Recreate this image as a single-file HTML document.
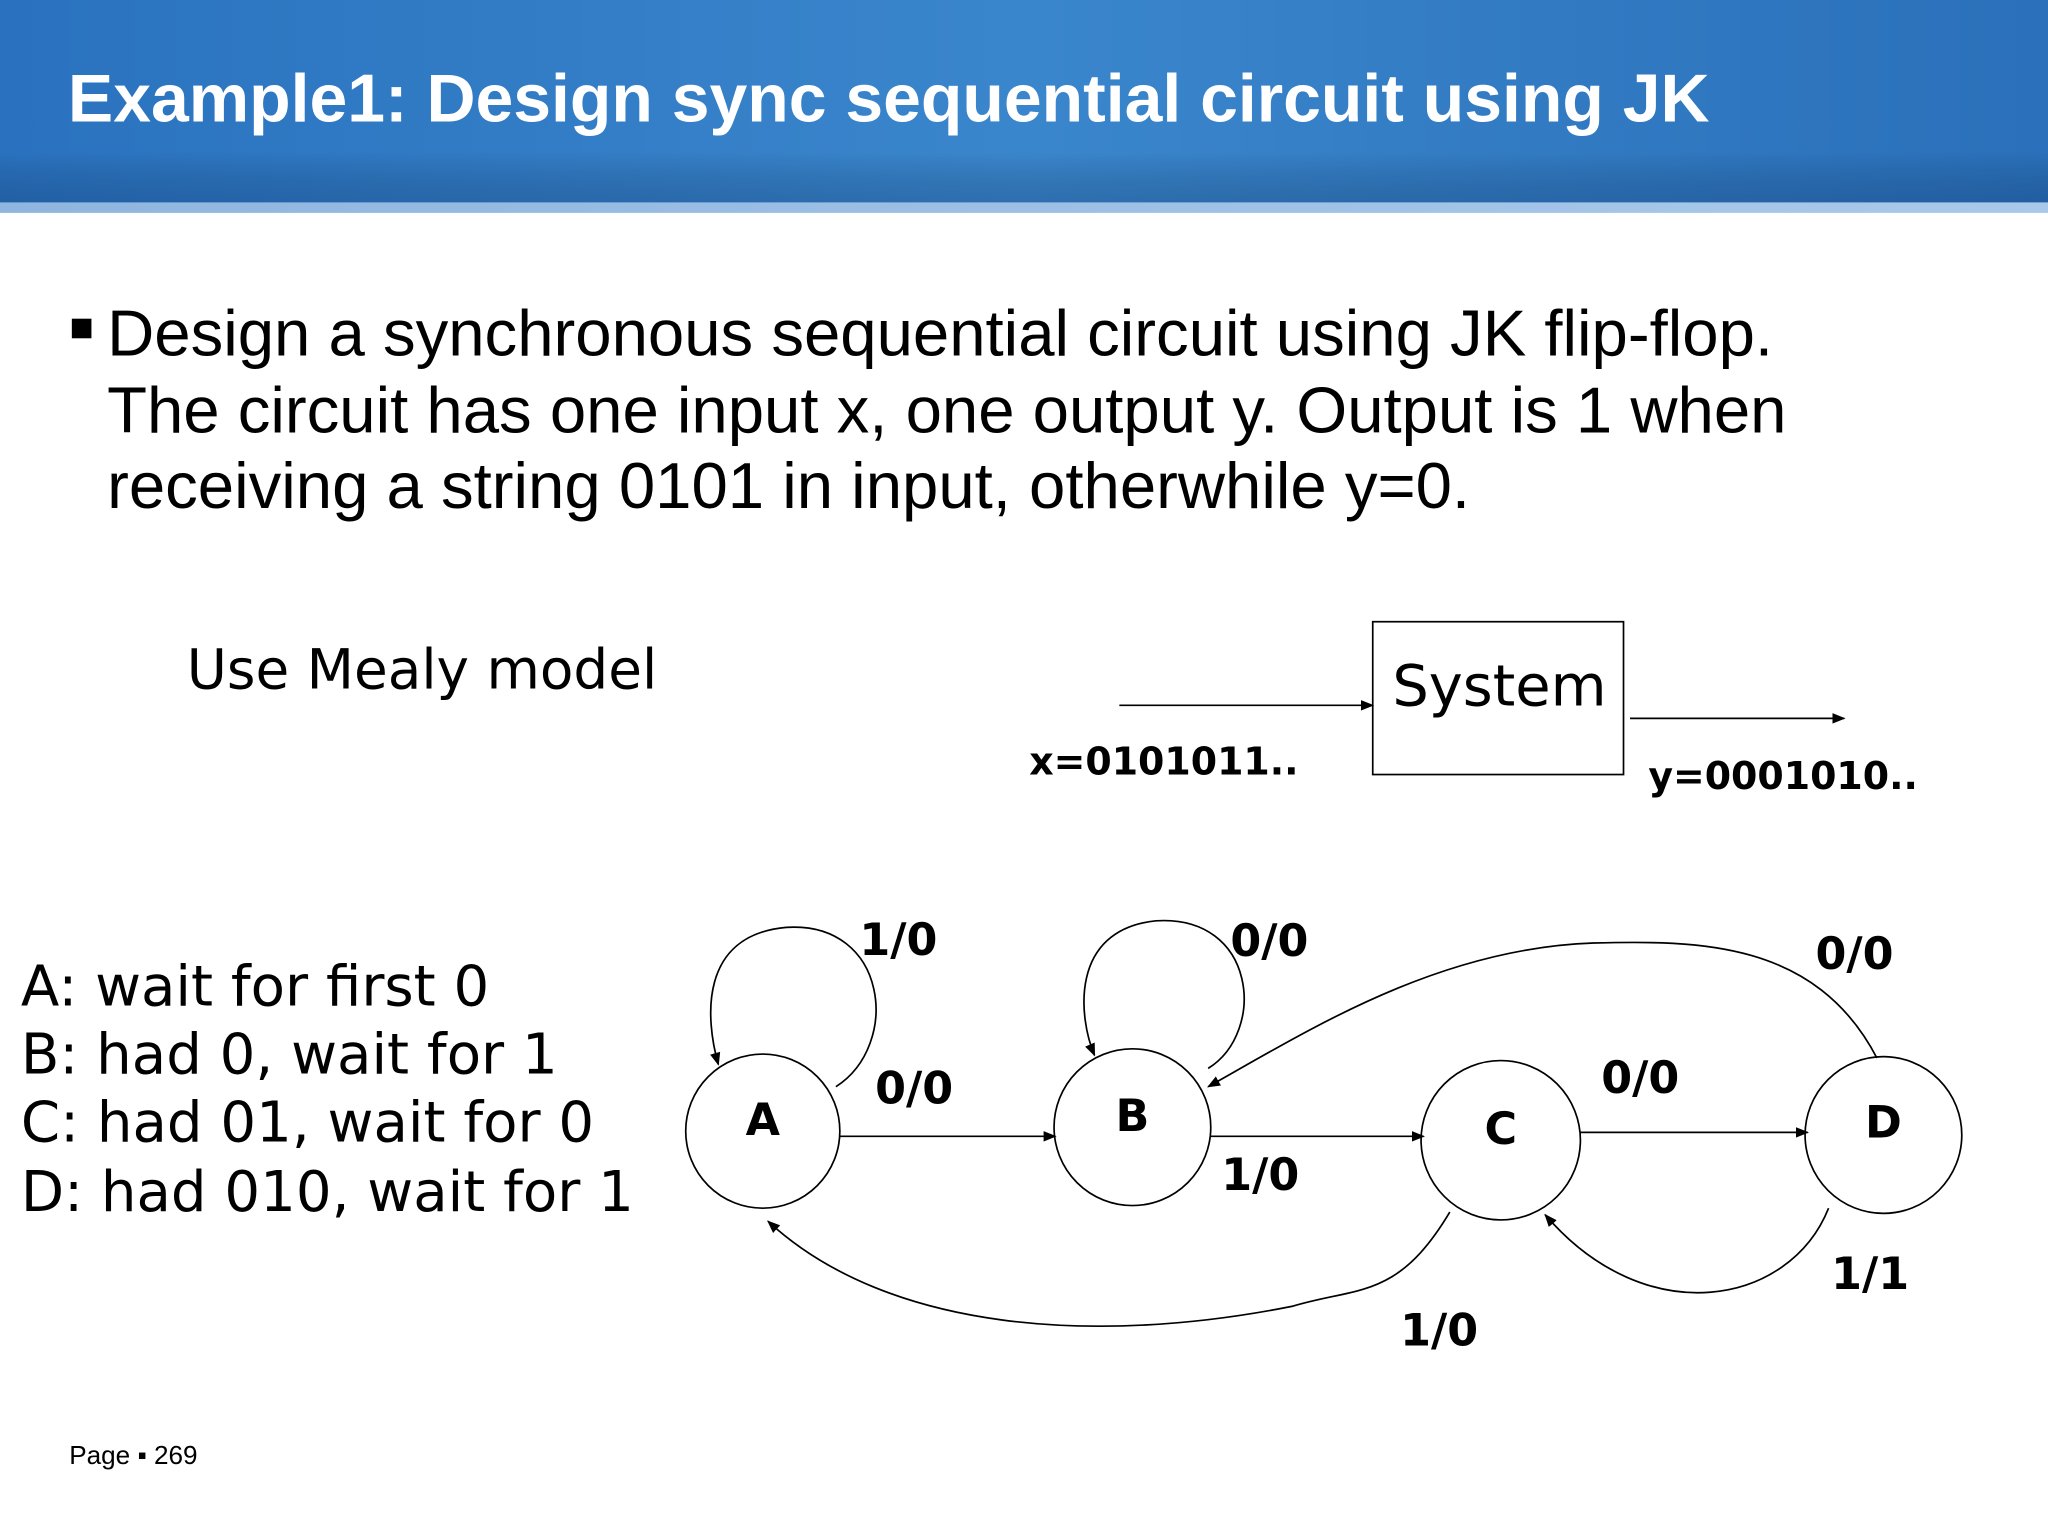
<!DOCTYPE html>
<html><head><meta charset="utf-8"><style>
html,body{margin:0;padding:0;background:#fff;}
svg{display:block;}
</style></head><body>
<svg width="2048" height="1536" viewBox="0 0 1568 1176" xmlns="http://www.w3.org/2000/svg">
<defs>
<linearGradient id="hg" x1="0" y1="0" x2="1" y2="0">
<stop offset="0" stop-color="#2a72bf"/><stop offset="0.5" stop-color="#3a86cc"/><stop offset="1" stop-color="#2a70ba"/>
</linearGradient>
<linearGradient id="hv" x1="0" y1="0" x2="0" y2="1">
<stop offset="0" stop-color="#000" stop-opacity="0"/><stop offset="0.75" stop-color="#000" stop-opacity="0"/><stop offset="1" stop-color="#0a2a5a" stop-opacity="0.25"/>
</linearGradient>
<linearGradient id="lb" x1="0" y1="0" x2="1" y2="0">
<stop offset="0" stop-color="#8fb6e0"/><stop offset="1" stop-color="#a9c9ea"/>
</linearGradient>
<marker id="ar" markerWidth="10" markerHeight="8" refX="9" refY="4" orient="auto" markerUnits="userSpaceOnUse">
<path d="M0,0 L10,4 L0,8 z" fill="#000"/>
</marker>
</defs>
<rect x="0" y="0" width="1568" height="155" fill="url(#hg)"/>
<rect x="0" y="0" width="1568" height="155" fill="url(#hv)"/>
<rect x="0" y="155" width="1568" height="8" fill="url(#lb)"/>
<text x="52" y="93" font-family="Liberation Sans, sans-serif" font-weight="bold" font-size="52" fill="#fff">Example1: Design sync sequential circuit using JK</text>

<rect x="55" y="244" width="15" height="15" fill="#000"/>
<g font-family="Liberation Sans, sans-serif" font-size="50" fill="#000">
<text x="82" y="272">Design a synchronous sequential circuit using JK flip-flop.</text>
<text x="82" y="331">The circuit has one input x, one output y. Output is 1 when</text>
<text x="82" y="389">receiving a string 0101 in input, otherwhile y=0.</text>
</g>

<g font-family="DejaVu Sans, sans-serif" fill="#000">
<text x="143" y="527" font-size="42">Use Mealy model</text>
<text x="1066" y="540" font-size="44">System</text>
<text x="16" y="770" font-size="43">A: wait for first 0</text>
<text x="16" y="822" font-size="43">B: had 0, wait for 1</text>
<text x="16" y="874" font-size="43">C: had 01, wait for 0</text>
<text x="16" y="927" font-size="43">D: had 010, wait for 1</text>
</g>
<rect x="1051" y="476" width="192" height="117" fill="none" stroke="#000" stroke-width="1.3"/>
<line x1="857" y1="540" x2="1051" y2="540" stroke="#000" stroke-width="1.3" marker-end="url(#ar)"/>
<line x1="1248" y1="550" x2="1412" y2="550" stroke="#000" stroke-width="1.3" marker-end="url(#ar)"/>
<g font-family="DejaVu Sans, sans-serif" font-weight="bold" fill="#000">
<text x="788" y="593" font-size="29">x=0101011..</text>
<text x="1262" y="604" font-size="29">y=0001010..</text>
<text x="658" y="731" font-size="34">1/0</text>
<text x="670" y="845" font-size="34">0/0</text>
<text x="942" y="732" font-size="34">0/0</text>
<text x="935" y="911" font-size="34">1/0</text>
<text x="1226" y="837" font-size="34">0/0</text>
<text x="1390" y="742" font-size="34">0/0</text>
<text x="1402" y="987" font-size="34">1/1</text>
<text x="1072" y="1030" font-size="34">1/0</text>
<text x="584" y="869" font-size="34" text-anchor="middle">A</text>
<text x="867" y="866" font-size="34" text-anchor="middle">B</text>
<text x="1149" y="876" font-size="34" text-anchor="middle">C</text>
<text x="1442" y="871" font-size="34" text-anchor="middle">D</text>
</g>
<g fill="none" stroke="#000" stroke-width="1.3">
<circle cx="584" cy="866" r="59"/>
<circle cx="867" cy="863" r="60"/>
<circle cx="1149" cy="873" r="61"/>
<circle cx="1442" cy="869" r="60"/>
<path d="M640 832 C690 800,680 705,602 710 C535 716,540 780,550 815" marker-end="url(#ar)"/>
<line x1="643" y1="870" x2="808" y2="870" marker-end="url(#ar)"/>
<path d="M925 818 C970 790,962 700,885 705 C818 712,826 780,838 808" marker-end="url(#ar)"/>
<line x1="927" y1="870" x2="1090" y2="870" marker-end="url(#ar)"/>
<line x1="1210" y1="867" x2="1384" y2="867" marker-end="url(#ar)"/>
<path d="M1437 810 C1390 720,1300 720,1220 722 C1100 726,1000 790,925 832" marker-end="url(#ar)"/>
<path d="M1400 925 C1370 1000,1260 1020,1183 930" marker-end="url(#ar)"/>
<path d="M1110 928 C1070 995,1040 985,990 1000 C840 1030,680 1020,588 935" marker-end="url(#ar)"/>
</g>
<text x="53" y="1121" font-family="Liberation Sans, sans-serif" font-size="20" fill="#000">Page ▪ 269</text>
</svg>
</body></html>
